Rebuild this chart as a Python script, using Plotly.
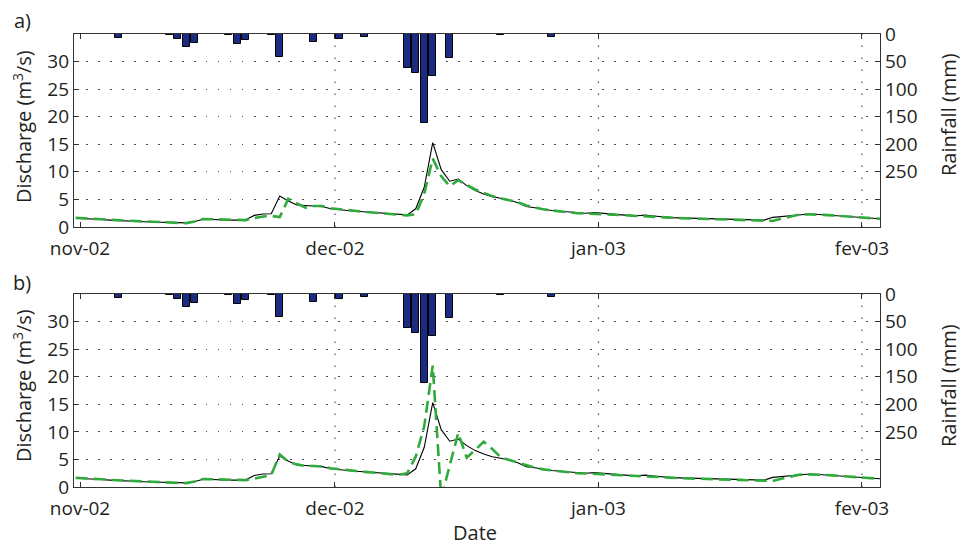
import pandas as pd
import plotly.graph_objects as go

# ---------------- data ----------------
series_start = "2002-10-31"          # first daily value (plotted at midday)
obs_q = [1.6, 1.55, 1.45, 1.35, 1.25, 1.15, 1.05, 1.0, 0.95, 0.9, 0.85, 0.8, 0.8, 0.75,
         1.0, 1.4, 1.35, 1.25, 1.25, 1.25, 1.3, 2.1, 2.35, 2.4, 5.6, 4.7, 4.0, 3.9, 3.8,
         3.7, 3.3, 3.1, 3.0, 2.85, 2.75, 2.6, 2.5, 2.4, 2.3, 2.2, 3.3, 7.2, 15.3, 10.4,
         8.3, 8.7, 7.5, 6.6, 6.0, 5.5, 5.2, 4.9, 4.4, 3.7, 3.5, 3.2, 3.0, 2.85, 2.7,
         2.55, 2.5, 2.6, 2.45, 2.3, 2.2, 2.1, 2.05, 2.15, 2.0, 1.8, 1.7, 1.65, 1.6, 1.55,
         1.5, 1.45, 1.4, 1.35, 1.3, 1.27, 1.25, 1.25, 1.75, 1.9, 2.1, 2.2, 2.3, 2.3, 2.2,
         2.1, 2.0, 1.85, 1.7, 1.6, 1.5, 1.45]
sim_a = [1.65, 1.6, 1.5, 1.4, 1.3, 1.2, 1.1, 1.05, 1.0, 0.95, 0.85, 0.8, 0.75, 0.7,
         1.0, 1.45, 1.4, 1.3, 1.3, 1.25, 1.25, 1.6, 1.9, 2.0, 1.8, 5.1, 4.3, 3.5, 3.8,
         3.8, 3.4, 3.2, 3.0, 2.9, 2.75, 2.6, 2.5, 2.4, 2.2, 2.1, 2.3, 6.0, 12.4, 9.2,
         7.4, 8.5, 7.6, 6.8, 6.2, 5.6, 5.2, 4.9, 4.5, 3.9, 3.5, 3.2, 3.0, 2.8, 2.7,
         2.5, 2.45, 2.4, 2.35, 2.25, 2.15, 2.1, 2.0, 1.95, 1.9, 1.8, 1.7, 1.6, 1.55,
         1.5, 1.45, 1.4, 1.35, 1.3, 1.25, 1.2, 1.2, 1.15, 1.1, 1.5, 1.9, 2.2, 2.3, 2.3,
         2.2, 2.1, 2.0, 1.85, 1.7, 1.6, 1.5, 1.45]
sim_b = [1.65, 1.6, 1.5, 1.4, 1.3, 1.2, 1.1, 1.05, 1.0, 0.95, 0.85, 0.8, 0.75, 0.7,
         1.0, 1.45, 1.4, 1.3, 1.3, 1.25, 1.25, 1.5, 1.9, 2.2, 5.9, 4.6, 4.1, 3.8, 3.8,
         3.7, 3.4, 3.2, 3.0, 2.9, 2.75, 2.6, 2.5, 2.4, 2.2, 2.5, 5.5, 11.0, 22.0, -2.0,
         4.0, 9.8, 5.3, 6.8, 8.2, 6.9, 5.4, 4.9, 4.4, 3.9, 3.5, 3.2, 3.0, 2.8, 2.7,
         2.5, 2.45, 2.4, 2.35, 2.25, 2.15, 2.1, 2.0, 1.95, 1.9, 1.8, 1.7, 1.6, 1.55,
         1.5, 1.45, 1.4, 1.35, 1.3, 1.25, 1.2, 1.2, 1.15, 1.1, 1.5, 1.9, 2.2, 2.3, 2.3,
         2.2, 2.1, 2.0, 1.85, 1.7, 1.6, 1.5, 1.45]
rain_dates = ["2002-11-01", "2002-11-05", "2002-11-11", "2002-11-12", "2002-11-13",
              "2002-11-14", "2002-11-18", "2002-11-19", "2002-11-20", "2002-11-23",
              "2002-11-24", "2002-11-28", "2002-12-01", "2002-12-04", "2002-12-09",
              "2002-12-10", "2002-12-11", "2002-12-12", "2002-12-14", "2002-12-20",
              "2002-12-26"]
rain_mm = [0.5, 7, 1, 8.5, 23, 16, 1, 17.5, 11, 1, 41, 14.5, 9, 6, 62, 71, 162, 76,
           44, 1, 5]
month_ticks = ["2002-11-01", "2002-12-01", "2003-01-01", "2003-02-01"]
month_labels = ["nov-02", "dec-02", "jan-03", "fev-03"]
grid_months = ["2002-12-01", "2003-01-01", "2003-02-01"]
q_ticks = [0, 5, 10, 15, 20, 25, 30]
rain_ticks = [0, 50, 100, 150, 200, 250]
rain_unlabelled_ticks = [300]

# ---------------- figure ----------------
half_day = pd.Timedelta(hours=12)
q_x = pd.date_range(series_start, periods=len(obs_q), freq="D") + half_day
r_x = pd.to_datetime(rain_dates) + half_day

FONT = "Open Sans"
AX = "#333333"
GREEN = "#2faa3c"
NAVY = "#1b2a82"
GRID = "rgba(60,60,60,0.9)"

fig = go.Figure()
for xa, yq, yr, sim in [("x", "y", "y2", sim_a), ("x2", "y3", "y4", sim_b)]:
    fig.add_trace(go.Bar(x=r_x, y=rain_mm, xaxis=xa, yaxis=yr, width=0.85 * 86400000,
                         marker=dict(color=NAVY, line=dict(color="black", width=1)),
                         showlegend=False))
    fig.add_trace(go.Scatter(x=q_x, y=obs_q, xaxis=xa, yaxis=yq, mode="lines",
                             line=dict(color="black", width=1.1), showlegend=False))
    fig.add_trace(go.Scatter(x=q_x, y=sim, xaxis=xa, yaxis=yq, mode="lines",
                             line=dict(color=GREEN, width=2.6, dash="12px,6px"),
                             showlegend=False))

xrange = ["2002-10-31 07:00", "2003-02-03 03:00"]
tickfont = dict(family=FONT, size=19, color="#231f20")

def xaxis(anchor):
    return dict(anchor=anchor, domain=[0, 1], type="date", range=xrange,
                tickvals=month_ticks, ticktext=month_labels, ticks="inside",
                ticklen=5, tickcolor=AX, showline=True, linecolor=AX, linewidth=1.3,
                mirror="ticks", showgrid=False, tickfont=tickfont, automargin=False,
                ticklabelstandoff=4)

def qaxis(anchor, dom):
    return dict(anchor=anchor, domain=dom, range=[0, 35], tickvals=q_ticks,
                ticks="inside", ticklen=5, tickcolor=AX, showline=True, linecolor=AX,
                linewidth=1.3, mirror=True, zeroline=False, showgrid=True,
                gridcolor=GRID, griddash="1.5px,10.5px", gridwidth=1.2,
                tickfont=tickfont, automargin=False)

def raxis(anchor, over):
    return dict(anchor=anchor, overlaying=over, side="right", range=[350, 0],
                tickvals=rain_ticks, ticks="inside", ticklen=5,
                minor=dict(tickvals=rain_unlabelled_ticks, ticks="inside", ticklen=5,
                           tickcolor=AX, showgrid=False),
                tickcolor=AX, showline=True, linecolor=AX, linewidth=1.3,
                zeroline=False, showgrid=False, tickfont=tickfont, automargin=False)

dom_a = [0.574, 1.0]
dom_b = [0.0, 0.426]
fig.update_layout(
    width=961, height=546,
    margin=dict(l=74, r=81, t=34, b=59, autoexpand=False),
    paper_bgcolor="white", plot_bgcolor="white",
    font=dict(family=FONT, color="#231f20"),
    bargap=0,
    xaxis=xaxis("y"), yaxis=qaxis("x", dom_a), yaxis2=raxis("x", "y"),
    xaxis2=xaxis("y3"), yaxis3=qaxis("x2", dom_b), yaxis4=raxis("x2", "y3"),
)

shapes = []
for xr, yr in [("x", "y"), ("x2", "y3")]:
    for m in grid_months:
        shapes.append(dict(type="line", xref=xr, yref=yr + " domain", x0=m, x1=m,
                           y0=0, y1=1, layer="below",
                           line=dict(color=GRID, width=1.2, dash="1.5px,10.5px")))
fig.update_layout(shapes=shapes)

def px_x(px):
    return (px - 74) / 806

def px_y(py):
    return (487 - py) / 453

title_font = dict(family=FONT, size=20, color="#231f20")
ann = [
    dict(text="a)", x=px_x(22), y=px_y(20), textangle=0),
    dict(text="b)", x=px_x(22), y=px_y(282), textangle=0),
    dict(text="Discharge (m<sup>3</sup>/s)", x=px_x(22), y=px_y(127), textangle=-90),
    dict(text="Discharge (m<sup>3</sup>/s)", x=px_x(22), y=px_y(386), textangle=-90),
    dict(text="Rainfall (mm)", x=px_x(948), y=px_y(114), textangle=-90),
    dict(text="Rainfall (mm)", x=px_x(948), y=px_y(385), textangle=-90),
    dict(text="Date", x=px_x(475), y=px_y(532), textangle=0),
]
for a in ann:
    a.update(xref="paper", yref="paper", showarrow=False, xanchor="center",
             yanchor="middle", font=title_font)
fig.update_layout(annotations=ann)

fig.write_html("out.html",
               config={"displayModeBar": False},
               post_script="document.body.style.margin='0';"
                           "document.body.style.overflow='hidden';")
